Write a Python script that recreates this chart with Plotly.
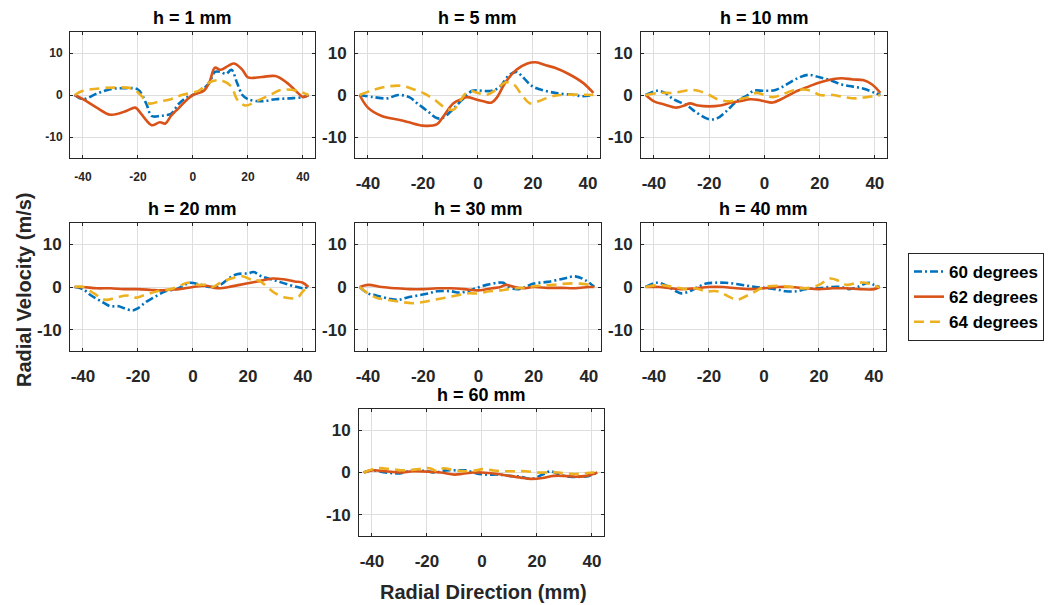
import plotly.graph_objects as go

# ---- radial velocity profiles (m/s) vs radial position (mm) ----
SERIES = ["60 degrees", "62 degrees", "64 degrees"]
COLORS = ["#0072BD", "#D95319", "#EDB120"]
DASHES = ["8px,3px,2px,3px", "solid", "10px,6px"]
HEIGHTS = ["h = 1 mm", "h = 5 mm", "h = 10 mm", "h = 20 mm", "h = 30 mm", "h = 40 mm", "h = 60 mm"]

# h = 1 mm
H1_X60 = [-43, -40, -35, -30, -25, -20, -17, -15, -12, -10, -8, -5, -2, 0, 3, 6, 8, 10, 12, 14, 16, 18, 20, 25, 30, 35, 40, 42]
H1_V60 = [0, -1, 0.3, 1.4, 1.6, 1.3, -2, -5, -5, -4.8, -4.5, -2, -0.5, 0, 1, 3, 5.5, 5.5, 5, 6, 3, 0, -1, -1.5, -1, -0.8, -0.5, 0]
H1_X62 = [-43, -40, -35, -30, -25, -21, -20, -17, -15, -12, -10, -8, -5, -2, 0, 4, 6, 8, 10, 13, 15, 18, 20, 25, 30, 34, 39, 40, 42]
H1_V62 = [0, -1, -3, -4.7, -4, -3, -3.5, -6, -7.2, -6.5, -6.8, -5, -3, -1, 0, 1, 3, 6.5, 6, 7, 7.5, 6, 4.2, 4.3, 4.5, 3, 0, -0.5, 0]
H1_X64 = [-43, -40, -35, -28, -22, -19, -16, -12, -8, -4, 2, 6, 10, 14, 16, 19, 23, 28, 32, 38, 42]
H1_V64 = [0, 1, 1.5, 1.8, 1.5, 0, -2, -1.5, -1, 0, 1, 3, 3.5, 2, -1, -2.5, -1.5, 0, 1.2, 1, 0]

# h = 5 mm
H5_X60 = [-43, -38, -33, -29, -25, -22, -18, -15, -13, -10, -7, -4, -2, 5, 8, 11, 14, 16, 20, 28, 35, 38, 42]
H5_V60 = [0, -0.5, -0.8, 0, -0.5, -2, -4, -5.5, -5.5, -4, -2, 0, 1, 1, 2, 4.5, 5.5, 4.5, 2, 0.5, 0, -0.3, 0]
H5_X62 = [-43, -40, -35, -28, -25, -20, -15, -13, -9, -6, -4, -1, 2, 5, 7, 10, 14, 18, 21, 25, 28, 33, 38, 42]
H5_V62 = [0, -3, -5, -6, -6.5, -7.3, -7, -5.5, -2, -1, -0.5, -1, -1.5, -1.8, -0.5, 3, 6, 7.5, 7.8, 7, 6.5, 5, 3, 0.5]
H5_X64 = [-43, -38, -33, -28, -24, -20, -16, -12, -9, -7, -5, -3, 0, 3, 6, 10, 13, 16, 19, 22, 26, 30, 42]
H5_V64 = [0, 1.2, 2, 2.2, 1.5, 0.5, -1, -3, -3.5, -2, 0, 1, 0.5, 0, 1, 3, 2.5, 0, -2, -1.5, -0.5, 0, 0]

# h = 10 mm
H10_X60 = [-43, -39, -36, -33, -28, -25, -20, -17, -14, -10, -6, -4, 0, 4, 8, 12, 16, 20, 24, 28, 32, 36, 40, 42]
H10_V60 = [0, 1, 0.5, -1, -2.5, -4, -5.8, -5.5, -4, -1.5, 0, 1, 1, 1.2, 2.5, 4, 4.8, 4.2, 3.5, 2.5, 2, 1.5, 0.5, 0]
H10_X62 = [-43, -40, -36, -32, -29, -27, -24, -20, -16, -12, -9, -5, -2, 0, 3, 6, 9, 12, 16, 20, 25, 28, 32, 36, 39, 42]
H10_V62 = [0, -1.5, -2.3, -3, -2.5, -2, -2.5, -2.7, -2.5, -1.8, -1.5, -1, -1.2, -1.5, -1.8, -1, 0, 1, 2, 3, 3.8, 4, 3.7, 3.5, 2.5, 0.5]
H10_X64 = [-43, -38, -33, -27, -24, -20, -17, -13, -9, -6, -3, 0, 3, 6, 10, 14, 17, 20, 25, 29, 33, 37, 42]
H10_V64 = [0, 0.5, 0.5, 1.2, 1, 0, -1, -1.5, -1, -0.5, 0.5, 0, -0.5, 0, 1, 1.3, 1, 0, 0, -0.5, -0.8, -0.5, 0]

# h = 20 mm
H20_X60 = [-43, -40, -37, -33, -30, -27, -25, -22, -20, -17, -13, -10, -6, -3, -1, 3, 6, 10, 13, 16, 20, 22, 25, 30, 35, 38, 40, 42]
H20_V60 = [0, -0.5, -2, -3.5, -4.5, -4.5, -5, -5.5, -5, -3.5, -2, -1, -0.5, 0.5, 1, 0.5, 0, 0.5, 2, 3, 3.2, 3.5, 2.5, 1.5, 0.5, 0, -0.3, 0]
H20_X62 = [-43, -40, -35, -30, -25, -20, -15, -12, -10, -5, 0, 5, 8, 10, 13, 17, 21, 25, 29, 33, 37, 40, 42]
H20_V62 = [0, 0, -0.3, -0.3, -0.5, -0.5, -0.7, -0.8, -0.7, -0.5, 0, 0.3, -0.2, -0.3, 0, 0.5, 1, 1.5, 2, 1.8, 1.3, 1, 0]
H20_X64 = [-43, -40, -36, -32, -28, -24, -21, -18, -13, -8, -4, -2, 2, 5, 7, 10, 14, 18, 22, 24, 27, 30, 34, 38, 40, 42]
H20_V64 = [0, 0, -1.5, -3, -2.5, -2, -2.5, -2, -1, -0.5, 0.5, 1, 0.5, 0.5, 0, 1, 2, 2.5, 1.5, 1.5, 0, -1.5, -2.5, -2.5, -1, 0]

# h = 30 mm
H30_X60 = [-43, -40, -37, -32, -29, -26, -22, -18, -15, -10, -7, -4, -1, 3, 7, 9, 11, 14, 17, 20, 25, 31, 35, 39, 42]
H30_V60 = [0, -1.5, -2, -2.8, -3, -2.5, -2, -1.5, -1, -1, -1.3, -1, -0.3, 0.5, 1, 1, 0, -0.5, 0, 0.8, 1.2, 2, 2.5, 1.5, 0]
H30_X62 = [-43, -40, -35, -30, -25, -20, -15, -10, -5, 0, 5, 8, 10, 13, 16, 20, 25, 30, 35, 40, 42]
H30_V62 = [0, 0.5, 0, -0.3, -0.5, -0.5, -0.3, -0.3, -0.5, -0.8, -0.3, 0, 0.5, 0, -0.3, 0, -0.2, -0.2, -0.3, 0, 0]
H30_X64 = [-43, -40, -37, -33, -28, -24, -20, -16, -12, -8, -4, 0, 4, 8, 11, 14, 18, 22, 27, 32, 37, 40, 42]
H30_V64 = [0, -1.5, -2.5, -3, -3.5, -3.8, -3.5, -3, -2.5, -2, -1.5, -1.5, -1, -0.8, -0.5, -0.3, 0, 0.3, 0.5, 0.8, 0.8, 0.5, 0]

# h = 40 mm
H40_X60 = [-43, -39, -36, -32, -30, -27, -24, -21, -18, -14, -10, -6, -3, 0, 4, 8, 12, 15, 20, 24, 28, 31, 34, 38, 40, 42]
H40_V60 = [0, 1, 0.5, -1, -1.5, -1, 0, 0.8, 1, 1, 0.7, 0.3, 0, -0.2, -0.5, -1, -1, -0.5, -0.3, 0, 0, -0.5, 0, 1, 0.5, 0]
H40_X62 = [-43, -38, -34, -30, -25, -20, -15, -10, -5, 0, 5, 10, 15, 20, 25, 30, 35, 40, 42]
H40_V62 = [0, 0, -0.3, -0.5, -0.3, 0, 0, -0.3, -0.5, -0.3, 0, 0, -0.3, -0.5, -0.3, -0.3, -0.5, -0.5, 0]
H40_X64 = [-43, -38, -33, -28, -25, -21, -17, -12, -10, -6, -3, 0, 5, 10, 15, 20, 24, 27, 30, 34, 37, 40, 42]
H40_V64 = [0, 0.5, 0, -0.5, -0.3, -1, -1, -2.5, -3, -2, -1, 0, 0.3, 0, -0.3, 0.5, 2, 1.5, 0.5, 1, 1, 0.3, 0]

# h = 60 mm
H60_X60 = [-43, -40, -35, -30, -25, -20, -17, -13, -9, -6, -2, 2, 6, 10, 14, 18, 22, 25, 28, 32, 36, 39, 42]
H60_V60 = [0, 0.5, 0, -0.2, 0.5, 0.3, 0, 0.5, 0.5, 0.5, -0.2, -0.5, -0.5, -0.8, -1, -1.5, -0.5, 0.3, -0.5, -1, -1, -0.8, 0]
H60_X62 = [-43, -40, -35, -30, -25, -20, -15, -10, -7, -3, 0, 5, 10, 15, 18, 22, 26, 30, 34, 38, 42]
H60_V62 = [0, 0.5, 0.3, 0, 0.3, 0.2, 0, -0.5, -0.3, 0, 0, -0.3, -0.8, -1.3, -1.5, -1.3, -0.8, -0.8, -1, -0.8, 0]
H60_X64 = [-43, -38, -33, -28, -23, -19, -16, -14, -10, -6, -2, 0, 4, 8, 12, 16, 20, 24, 28, 32, 36, 40, 42]
H60_V64 = [0, 1, 0.8, 0.5, 0.8, 1, 0.3, 1, 0.5, 0.3, 0.5, 0.8, 0.5, 0.3, 0.3, 0.3, 0, 0, 0, -0.3, -0.3, 0, 0]

PANELS = [
    [(H1_X60, H1_V60), (H1_X62, H1_V62), (H1_X64, H1_V64)],
    [(H5_X60, H5_V60), (H5_X62, H5_V62), (H5_X64, H5_V64)],
    [(H10_X60, H10_V60), (H10_X62, H10_V62), (H10_X64, H10_V64)],
    [(H20_X60, H20_V60), (H20_X62, H20_V62), (H20_X64, H20_V64)],
    [(H30_X60, H30_V60), (H30_X62, H30_V62), (H30_X64, H30_V64)],
    [(H40_X60, H40_V60), (H40_X62, H40_V62), (H40_X64, H40_V64)],
    [(H60_X60, H60_V60), (H60_X62, H60_V62), (H60_X64, H60_V64)],
]

X_TICKS = [-40, -20, 0, 20, 40]
Y_TICKS = [-10, 0, 10]

# ---- layout (pixel boxes of each axes: left, right, top, bottom) ----
W, H = 1048, 605
BOXES = [
    (70, 315, 32, 158), (355, 600, 32, 158), (641, 887, 32, 158),
    (70, 315, 223, 351), (355, 601, 223, 351), (641, 886, 223, 351),
    (359, 604, 409, 536),
]
FONT = "Liberation Sans, Arial, sans-serif"
AX_COLOR = "#262626"

fig = go.Figure()
layout = dict(
    width=W, height=H, margin=dict(l=0, r=0, t=0, b=0),
    paper_bgcolor="white", plot_bgcolor="white",
    font=dict(family=FONT, color=AX_COLOR),
    annotations=[],
)

for i, (panel, box) in enumerate(zip(PANELS, BOXES)):
    n = "" if i == 0 else str(i + 1)
    left, right, top, bottom = box
    tick_size = 12 if i == 0 else 17
    xa = dict(
        domain=[left / W, right / W], range=[-44.7, 44.4], anchor="y" + n,
        tickvals=X_TICKS, ticktext=[f"<b>{t}</b>" for t in X_TICKS],
        showgrid=True, gridcolor="#dedede", gridwidth=1, zeroline=False,
        showline=True, linecolor=AX_COLOR, linewidth=1, mirror="ticks",
        ticks="inside", ticklen=3, tickcolor=AX_COLOR,
        tickfont=dict(size=tick_size, family=FONT, color=AX_COLOR),
        ticklabelstandoff=8 if i == 0 else 10,
    )
    ya = dict(
        domain=[1 - bottom / H, 1 - top / H], range=[-15, 15], anchor="x" + n,
        tickvals=Y_TICKS, ticktext=[f"<b>{t}</b>" for t in Y_TICKS],
        showgrid=True, gridcolor="#dedede", gridwidth=1, zeroline=False,
        showline=True, linecolor=AX_COLOR, linewidth=1, mirror="ticks",
        ticks="inside", ticklen=3, tickcolor=AX_COLOR,
        tickfont=dict(size=tick_size, family=FONT, color=AX_COLOR),
        ticklabelstandoff=4,
    )
    layout["xaxis" + n] = xa
    layout["yaxis" + n] = ya
    for k, (xs, vs) in enumerate(panel):
        fig.add_trace(go.Scatter(
            x=xs, y=vs, xaxis="x" + n, yaxis="y" + n, mode="lines",
            name=SERIES[k], legendgroup=SERIES[k], showlegend=(i == 0),
            line=dict(color=COLORS[k], width=2.6, dash=DASHES[k], shape="spline", smoothing=1.0),
        ))
    layout["annotations"].append(dict(
        text=f"<b>{HEIGHTS[i]}</b>", xref="paper", yref="paper",
        x=(left + right) / 2 / W, y=1 - (top - 14) / H, xanchor="center", yanchor="middle",
        showarrow=False, font=dict(size=18, family=FONT, color="black"),
    ))

layout["annotations"].append(dict(
    text="<b>Radial Velocity (m/s)</b>", xref="paper", yref="paper",
    x=24 / W, y=1 - 290 / H, textangle=-90, xanchor="center", yanchor="middle",
    showarrow=False, font=dict(size=20, family=FONT, color=AX_COLOR),
))
layout["annotations"].append(dict(
    text="<b>Radial Direction (mm)</b>", xref="paper", yref="paper",
    x=483 / W, y=1 - 592 / H, xanchor="center", yanchor="middle",
    showarrow=False, font=dict(size=20, family=FONT, color=AX_COLOR),
))

layout["legend"] = dict(
    x=908 / W, y=1 - 253 / H, xanchor="left", yanchor="top",
    bgcolor="white", bordercolor=AX_COLOR, borderwidth=1,
    font=dict(size=17, family=FONT, color="black"),
    tracegroupgap=0, itemwidth=30,
)

fig.update_layout(**layout)
for tr in fig.data:
    if tr.showlegend:
        tr.name = f"<b>{tr.name}</b>"
fig.write_html("out.html")
